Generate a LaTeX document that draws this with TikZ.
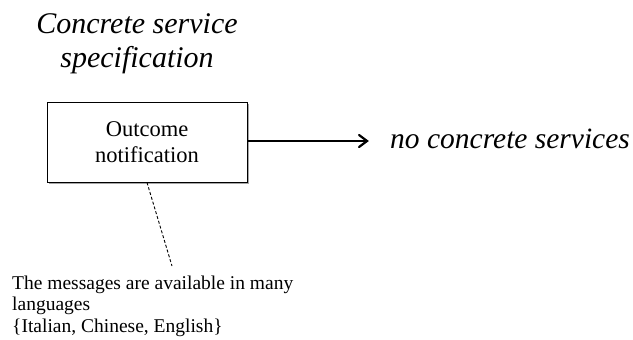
\documentclass[tikz,border=0pt]{standalone}
\usepackage{fontspec}
\setmainfont{Liberation Serif}
\begin{document}
\begin{tikzpicture}[x=1pt,y=-1pt,
  heading/.style={font=\fontsize{30}{34}\selectfont\itshape, align=center, inner sep=0pt},
  outcomebox/.style={draw=black, line width=1pt, fill=white, minimum width=200pt, minimum height=80pt,
    align=center, font=\fontsize{22.5}{26}\selectfont, inner sep=0pt},
  target/.style={font=\fontsize{29.5}{34}\selectfont\itshape, inner sep=0pt},
  note/.style={font=\fontsize{19.5}{21.5}\selectfont, align=left, inner sep=0pt},
  flow/.style={line width=1.2pt},
  chevron/.style={line width=2.2pt, line cap=round, line join=miter},
  noteline/.style={line width=0.9pt, dash pattern=on 3pt off 2pt}]
  \useasboundingbox (0,0) rectangle (633,340);

  % title over the box (base anchor sits on the last line)
  \node[heading, anchor=base] (spec) at (137,67) {Concrete service\\specification};

  % the service box with a faint shadow
  \fill[black!35] (48.5,103.5) rectangle (248.5,183.5);
  \node[outcomebox] (outcome) at (147,142) {Outcome\\notification};

  % outgoing arrow with an open chevron head, and its label
  \node[target, anchor=base west] (none) at (390,148) {no concrete services};
  \coordinate (tip) at (367,141);
  \draw[flow] (outcome.east |- tip) -- ([xshift=-1pt]tip);
  \draw[chevron] (tip) ++(-8,-6) -- (tip) -- ++(-8,6);

  % annotation
  \node[note, anchor=base west] (langs) at (12,332)
    {The messages are available in many\\languages\\\{Italian, Chinese, English\}};
  \coordinate (noteend) at (172,266);
  \draw[noteline] (outcome.south) -- (noteend);
\end{tikzpicture}
\end{document}
